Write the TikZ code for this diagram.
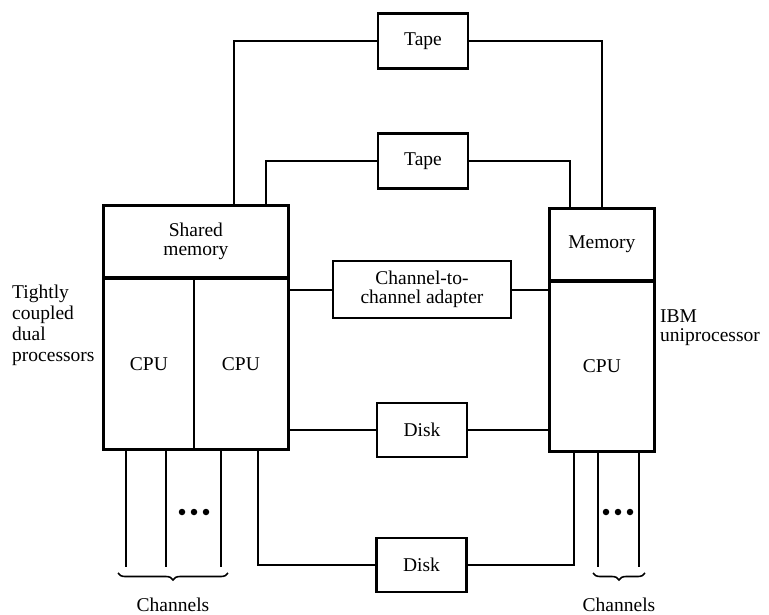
\documentclass[tikz,border=0pt]{standalone}
\usepackage{fontspec}
\setmainfont{Liberation Serif}
\usetikzlibrary{positioning, calc, fit, decorations.pathreplacing}
\tikzset{
	dev/.style    ={rectangle, draw=black, line width=2.4pt, minimum width=90pt, minimum height=55pt, align=center, inner sep=0pt},
	part/.style   ={rectangle, draw=black, line width=1.8pt, align=center, inner sep=0pt},
	unit/.style   ={rectangle, draw=black, line width=2.6pt, inner sep=0pt},
	wire/.style   ={line width=2pt},
	tag/.style    ={align=left, inner sep=0pt},
	% channel groups
	chbrace/.style={decorate, decoration={brace, amplitude=7pt}, line width=1.6pt},
	dot/.style    ={circle, fill=black, inner sep=0pt, minimum size=6.5pt},
}

\begin{document}
\begin{tikzpicture}[x=1pt, y=-1pt, font=\fontsize{19.5}{19}\selectfont]
	\useasboundingbox (0,0) rectangle (769,615);
	% dual processor complex
	\node[part, minimum width=184pt, minimum height=71pt, anchor=north west] (smem) at (103,205) {Shared\\memory};
	\node[part, minimum width=90pt, minimum height=170pt, anchor=north west] (cpuA) at (smem.south west) {CPU};
	\node[part, minimum width=94pt, minimum height=170pt, anchor=north east] (cpuB) at (smem.south east) {CPU};
	\node[unit, fit=(smem)(cpuA)(cpuB)] (dual) {};
	% uniprocessor
	\node[part, minimum width=104pt, minimum height=71pt, anchor=north west] (mem) at (549,208) {Memory};
	\node[part, minimum width=104pt, minimum height=169pt, anchor=north] (cpuC) at (mem.south) {CPU};
	\node[unit, fit=(mem)(cpuC)] (uni) {};
	% shared devices
	\node[dev] (tapeA) at (423,41) {Tape};
	\node[dev] (tapeB) at (423,161) {Tape};
	\node[dev, minimum width=178pt, minimum height=57pt] (cca) at (422,289.5) {Channel-to-\\channel adapter};
	\node[dev, minimum height=54pt] (diskA) at (422,430) {Disk};
	\node[dev, minimum height=54pt] (diskB) at (421.5,565) {Disk};
	% connections
	\draw[wire] (tapeA.west) -| (234,0 |- dual.north);
	\draw[wire] (tapeA.east) -| (602,0 |- uni.north);
	\draw[wire] (tapeB.west) -| (266,0 |- dual.north);
	\draw[wire] (tapeB.east) -| (570,0 |- uni.north);
	\draw[wire] (cca.west) -- (cca.west -| dual.east);
	\draw[wire] (cca.east) -- (cca.east -| uni.west);
	\draw[wire] (diskA.west) -- (diskA.west -| dual.east);
	\draw[wire] (diskA.east) -- (diskA.east -| uni.west);
	\draw[wire] (diskB.west) -| (258,0 |- dual.south);
	\draw[wire] (diskB.east) -| (574,0 |- uni.south);
	% channels
	\foreach \x [count=\i] in {126,166,221}
		\draw[wire] (\x,0 |- dual.south) -- (\x,567) coordinate (chL\i);
	\foreach \x [count=\i] in {598,639}
		\draw[wire] (\x,0 |- uni.south) -- (\x,567) coordinate (chR\i);
	\foreach \x [count=\i] in {182,194,206}
		\node[dot] (dL\i) at (\x,512) {};
	\foreach \x [count=\i] in {606,618,630}
		\node[dot] (dR\i) at (\x,512) {};
	\draw[chbrace] (228,573) -- (118,573);
	\draw[chbrace] (645,573) -- (593,573);
	\node (chanL) at (173,605) {Channels};
	\node (chanR) at (619,605) {Channels};
	% side labels
	\node[tag, anchor=north west, font=\fontsize{19.5}{21}\selectfont] (tight) at (12,285) {Tightly\\coupled\\dual\\processors};
	\node[tag, anchor=north west, font=\fontsize{19.5}{18.5}\selectfont] (ibm) at (660,310) {IBM\\uniprocessor};
\end{tikzpicture}
\end{document}
